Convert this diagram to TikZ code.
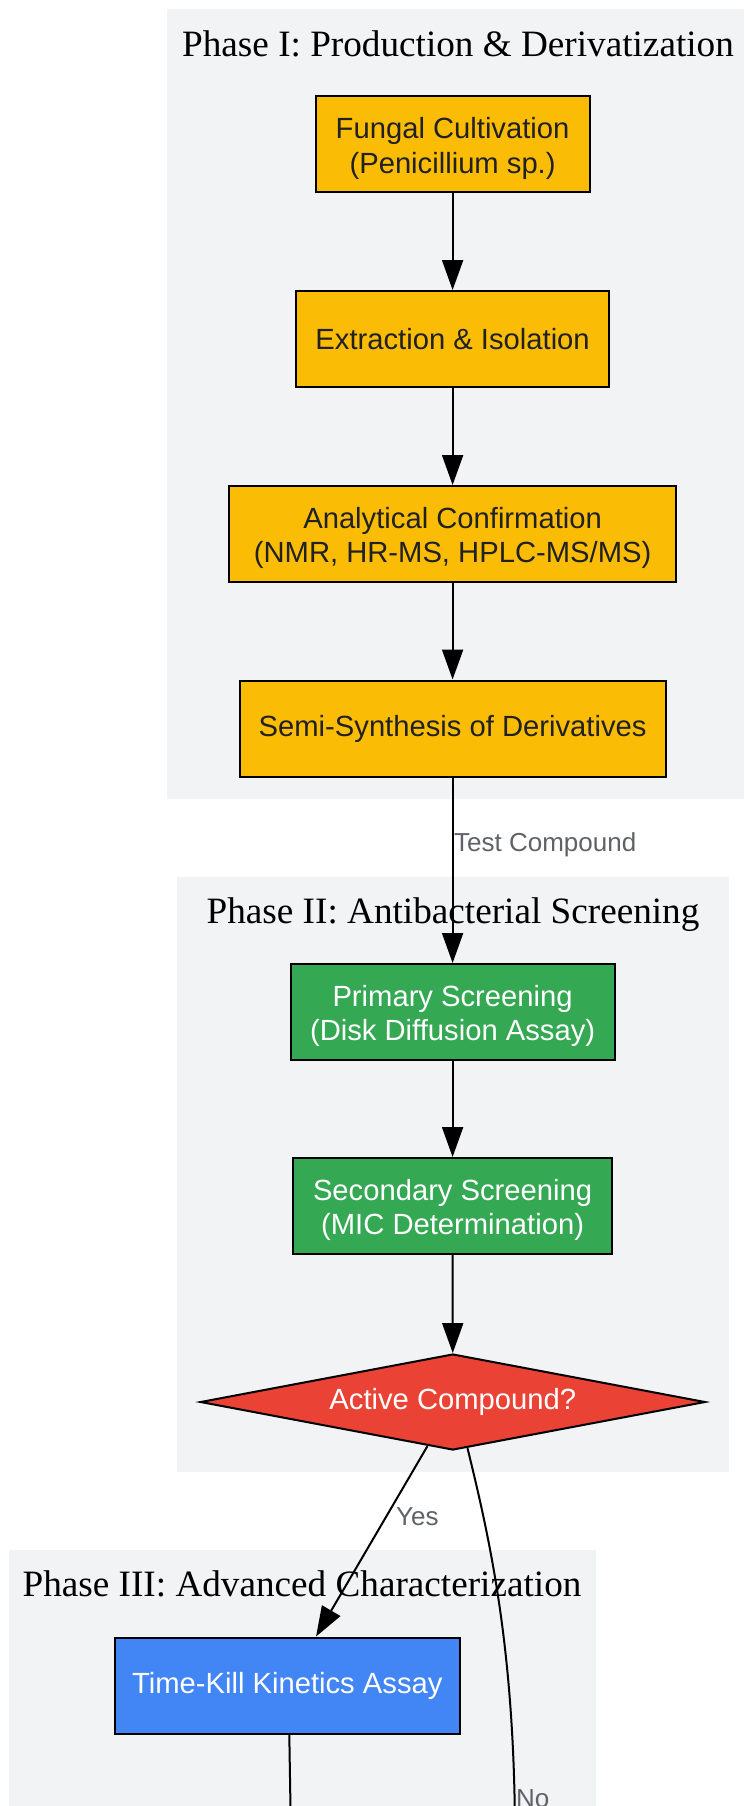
\documentclass[tikz,border=0pt]{standalone}
\usepackage{fontspec}
\setmainfont{Liberation Serif}
\newfontfamily\nodefont{Liberation Sans}
\usetikzlibrary{shapes.geometric,arrows.meta,calc}
\definecolor{gyellow}{HTML}{FBBC05}
\definecolor{ggreen}{HTML}{34A853}
\definecolor{gred}{HTML}{EA4335}
\definecolor{gblue}{HTML}{4285F4}
\definecolor{clusterbg}{HTML}{F1F3F4}
\definecolor{darktext}{HTML}{202124}
\definecolor{labelgray}{HTML}{5F6368}
\newcommand{\firstlinelift}{\rule{0pt}{29pt}}
\begin{document}
\begin{tikzpicture}[x=1pt,y=-1pt,
  box/.style={draw=black, line width=2pt, rectangle, inner sep=0pt, align=center,
    font=\nodefont\fontsize{29.2}{34.5}\selectfont, minimum height=96pt},
  ybox/.style={box, fill=gyellow, text=darktext},
  gbox/.style={box, fill=ggreen, text=white},
  bbox/.style={box, fill=gblue, text=white},
  decision/.style={draw=black, line width=2pt, diamond, aspect=5.26, inner sep=0pt,
    fill=gred, text=white, font=\nodefont\fontsize{29.2}{34.5}\selectfont,
    minimum width=505pt, minimum height=96pt},
  cluster/.style={fill=clusterbg},
  ctitle/.style={anchor=base, inner sep=0pt, font=\fontsize{37.2}{45}\selectfont, text=black},
  flow/.style={draw=black, line width=2pt, -{Triangle[length=30pt,width=21pt]}},
  plain/.style={draw=black, line width=2pt},
  elabel/.style={anchor=base west, inner sep=0pt, text=labelgray,
    font=\nodefont\fontsize{26}{30}\selectfont}
]
\useasboundingbox (0,0) rectangle (744,1806);
\clip (0,0) rectangle (744,1806);
\fill[white] (0,0) rectangle (744,1806);

% clusters
\fill[cluster] (167,9) rectangle (744,799);
\fill[cluster] (176.5,877) rectangle (729,1472);
\fill[cluster] (8.5,1550) rectangle (595.5,1830);

\node[ctitle] (t1) at (458,56.7) {Phase I: Production \& Derivatization};
\node[ctitle] (t2) at (453,923.3) {Phase II: Antibacterial Screening};
\node[ctitle] (t3) at (302,1596.7) {Phase III: Advanced Characterization};

% nodes
\node[ybox, minimum width=274pt] (b1) at (452.6,144.5) {\firstlinelift Fungal Cultivation\\(Penicillium sp.)};
\node[ybox, minimum width=313pt] (b2) at (452.6,339) {Extraction \& Isolation};
\node[ybox, minimum width=447pt] (b3) at (452.6,534) {\firstlinelift Analytical Confirmation\\(NMR, HR-MS, HPLC-MS/MS)};
\node[ybox, minimum width=426pt] (b4) at (452.6,728.5) {Semi-Synthesis of Derivatives};
\node[gbox, minimum width=324pt] (b5) at (452.6,1012) {\firstlinelift Primary Screening\\(Disk Diffusion Assay)};
\node[gbox, minimum width=319pt] (b6) at (452.6,1206) {\firstlinelift Secondary Screening\\(MIC Determination)};
\node[decision] (d) at (452.8,1402) {Active Compound?};
\node[bbox, minimum width=344.5pt] (b7) at (287.3,1685.5) {Time-Kill Kinetics Assay};

\coordinate (off1) at (291,1840);
\coordinate (off2) at (515,1840);

% edges
\draw[flow] (b1) -- (b2);
\draw[flow] (b2) -- (b3);
\draw[flow] (b3) -- (b4);
\draw[flow] (b4) -- (b5);
\draw[flow] (b5) -- (b6);
\draw[flow] (b6) -- (d);
\draw[flow] ($(d.south)!0.1!(d.west)$) -- ($(b7.north west)!0.583!(b7.north east)$);
\draw[plain] ($(b7.south)+(2,0)$) -- (off1);
\draw[plain] ($(d.south)!0.058!(d.east)$) .. controls (490,1540) and (515,1650) .. (off2);

% edge labels
\node[elabel] (l1) at (454,851) {Test Compound};
\node[elabel] (l2) at (396,1525) {Yes};
\node[elabel] (l3) at (516,1807) {No};
\end{tikzpicture}
\end{document}
